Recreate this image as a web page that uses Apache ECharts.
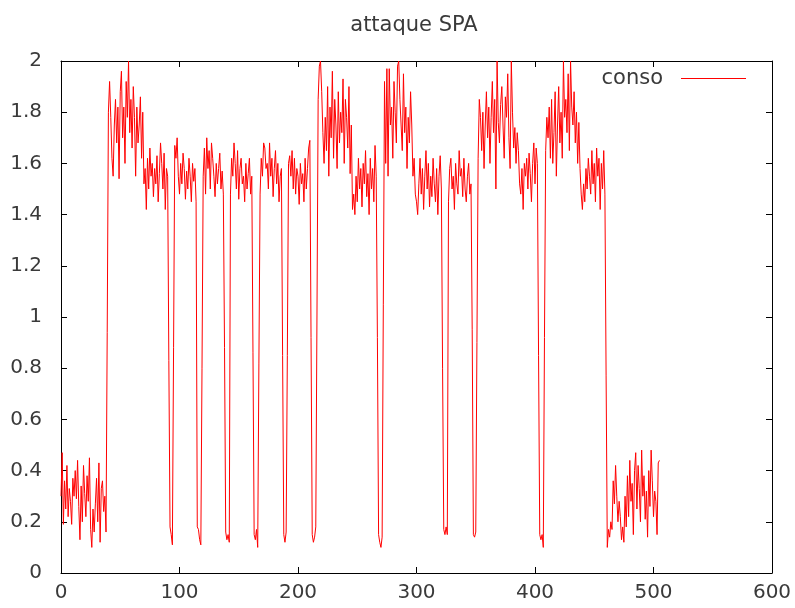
<!DOCTYPE html>
<html>
<head>
<meta charset="UTF-8">
<title>attaque SPA</title>
<script src="https://cdn.jsdelivr.net/npm/echarts@6/dist/echarts.min.js"></script>
<style>
  body { margin: 0; background: #fff; }
  #chart { width: 795px; height: 608px; }
</style>
</head>
<body>
<div id="chart"></div>
<script>
// conso, one value per sample (x = index 0..505)
var conso = [
  // 0-39 low
  0.30, 0.47, 0.19, 0.36, 0.25, 0.42, 0.22, 0.33, 0.28, 0.19,
  0.37, 0.30, 0.40, 0.29, 0.44, 0.26, 0.13, 0.34, 0.20, 0.42,
  0.31, 0.22, 0.38, 0.28, 0.45, 0.17, 0.10, 0.25, 0.16, 0.27,
  0.37, 0.20, 0.43, 0.12, 0.33, 0.36, 0.24, 0.30, 0.16, 0.94,
  // 40-70
  1.80, 1.92, 1.78, 1.62, 1.55, 1.75, 1.85, 1.68, 1.82, 1.54,
  1.88, 1.96, 1.70, 1.82, 1.60, 1.92, 1.78, 2.00, 1.72, 1.85,
  1.66, 1.90, 1.78, 1.55, 1.82, 1.68, 1.75, 1.86, 1.62, 1.80,
  1.52,
  // 71-90
  1.58, 1.42, 1.62, 1.50, 1.66, 1.55, 1.60, 1.47, 1.58, 1.52,
  1.63, 1.45, 1.56, 1.68, 1.60, 1.50, 1.64, 1.42, 1.58, 1.55,
  0.83, 0.18, 0.15, 0.11, 0.88,
  // 96-114
  1.67, 1.62, 1.70, 1.55, 1.48, 1.60, 1.52, 1.64, 1.58, 1.46,
  1.57, 1.50, 1.62, 1.55, 1.45, 1.60, 1.53, 1.58, 1.45,
  0.18, 0.17, 0.13, 0.11, 0.80,
  // 120-137
  1.55, 1.66, 1.48, 1.70, 1.58, 1.65, 1.50, 1.68, 1.62, 1.55,
  1.47, 1.60, 1.52, 1.58, 1.64, 1.50, 1.57, 1.48,
  0.88, 0.16, 0.13, 0.15, 0.12,
  // 143-161
  1.48, 1.62, 1.55, 1.68, 1.60, 1.50, 1.65, 1.46, 1.58, 1.62,
  1.52, 1.55, 1.45, 1.60, 1.50, 1.56, 1.62, 1.48, 1.55,
  0.86, 0.15, 0.13, 0.17, 0.10, 0.82,
  // 168-186
  1.48, 1.62, 1.55, 1.68, 1.66, 1.58, 1.60, 1.50, 1.68, 1.55,
  1.62, 1.47, 1.58, 1.65, 1.52, 1.60, 1.45, 1.55, 1.58,
  0.85, 0.15, 0.12, 0.16, 0.85,
  // 192-210
  1.60, 1.63, 1.55, 1.65, 1.50, 1.62, 1.48, 1.58, 1.55, 1.44,
  1.60, 1.52, 1.56, 1.45, 1.62, 1.50, 1.58, 1.66, 1.69,
  0.92, 0.15, 0.12, 0.14, 0.18, 1.00,
  // 217-245
  1.85, 1.98, 2.00, 1.88, 1.72, 1.60, 1.78, 1.65, 1.90, 1.55,
  1.82, 1.70, 1.96, 1.62, 1.85, 1.75, 1.58, 1.88, 1.68, 1.80,
  1.72, 1.93, 1.60, 1.85, 1.78, 1.66, 1.90, 1.56, 1.75,
  // 246-266
  1.42, 1.48, 1.40, 1.55, 1.45, 1.62, 1.50, 1.58, 1.43, 1.60,
  1.52, 1.65, 1.47, 1.56, 1.40, 1.62, 1.50, 1.58, 1.45, 1.67,
  1.55,
  0.92, 0.15, 0.12, 0.10, 0.14, 1.05,
  // 273-299
  1.92, 1.60, 1.97, 1.55, 1.97, 1.75, 1.82, 1.62, 1.92, 1.80,
  1.68, 1.98, 2.00, 1.85, 1.75, 1.65, 1.95, 1.72, 1.82, 1.58,
  1.78, 1.68, 1.88, 1.75, 1.55, 1.62, 1.48,
  // 300-321
  1.45, 1.40, 1.52, 1.62, 1.48, 1.58, 1.42, 1.55, 1.65, 1.50,
  1.60, 1.43, 1.55, 1.47, 1.62, 1.52, 1.45, 1.58, 1.40, 1.55,
  1.63, 1.50,
  0.80, 0.17, 0.15, 0.18, 0.15,
  // 327-346
  1.45, 1.58, 1.62, 1.50, 1.55, 1.42, 1.60, 1.52, 1.48, 1.65,
  1.55, 1.58, 1.47, 1.62, 1.50, 1.45, 1.55, 1.60, 1.48, 1.52,
  0.95, 0.15, 0.14, 0.16, 0.90,
  // 352-385
  1.62, 1.85, 1.78, 1.65, 1.80, 1.58, 1.75, 1.88, 1.70, 1.82,
  1.60, 1.78, 1.92, 1.72, 1.85, 1.50, 2.00, 1.76, 1.68, 1.83,
  1.90, 1.75, 1.62, 1.86, 1.78, 1.95, 1.70, 1.58, 2.00, 1.80,
  1.66, 1.74, 1.60, 1.72,
  // 386-402
  1.65, 1.52, 1.48, 1.58, 1.42, 1.60, 1.55, 1.62, 1.50, 1.64,
  1.56, 1.45, 1.60, 1.68, 1.52, 1.66, 1.60,
  0.85, 0.15, 0.13, 0.15, 0.10, 0.92,
  // 409-438
  1.65, 1.78, 1.70, 1.82, 1.62, 1.85, 1.60, 1.72, 1.88, 1.55,
  1.75, 1.90, 1.68, 1.80, 1.62, 2.00, 1.78, 1.85, 1.72, 1.95,
  1.65, 2.00, 1.82, 1.75, 1.88, 1.68, 1.80, 1.60, 1.76, 1.58,
  // 439-459
  1.48, 1.42, 1.52, 1.45, 1.58, 1.50, 1.62, 1.55, 1.48, 1.65,
  1.52, 1.60, 1.45, 1.66, 1.55, 1.62, 1.42, 1.60, 1.50, 1.65,
  1.48,
  0.77,
  // 461-505 low
  0.10, 0.17, 0.14, 0.20, 0.17, 0.36, 0.27, 0.42, 0.30, 0.20,
  0.28, 0.22, 0.13, 0.18, 0.12, 0.30, 0.18, 0.38, 0.22, 0.44,
  0.28, 0.35, 0.15, 0.40, 0.47, 0.25, 0.42, 0.33, 0.20, 0.48,
  0.30, 0.38, 0.21, 0.32, 0.14, 0.40, 0.26, 0.48, 0.36, 0.22,
  0.32, 0.28, 0.15, 0.43, 0.44
];

var xRange = [0, 600];
var yRange = [0, 2];

var points = conso.map(function (v, i) { return [i, v]; });

var chart = echarts.init(document.getElementById('chart'));
var txt = '#3a3a3a';
var font = 'DejaVu Sans';

var mirrorX = {
    type: 'value', min: xRange[0], max: xRange[1], interval: 100,
    axisLine: { show: true, onZero: false, lineStyle: { color: '#000', width: 1 } },
    axisTick: { show: true, inside: true, length: 6, lineStyle: { color: '#000' } },
    splitLine: { show: false }
};
var mirrorY = {
    type: 'value', min: yRange[0], max: yRange[1], interval: 0.2,
    axisLine: { show: true, onZero: false, lineStyle: { color: '#000', width: 1 } },
    axisTick: { show: true, inside: true, length: 6, lineStyle: { color: '#000' } },
    splitLine: { show: false }
};

var option = {
    backgroundColor: '#fff',
    animation: false,
    title: {
        text: 'attaque SPA',
        left: 409, textAlign: 'center',
        top: 10,
        textStyle: { fontFamily: font, fontSize: 21, fontWeight: 'normal', color: txt }
    },
    legend: {
        data: ['conso'],
        right: 44, top: 63,
        align: 'right',
        icon: 'rect',
        itemWidth: 65, itemHeight: 1,
        textStyle: { fontFamily: font, fontSize: 21, color: txt, padding: [0, 13, 0, 0] }
    },
    grid: { left: 61, right: 23, top: 61, bottom: 35 },
    xAxis: [
        Object.assign({}, mirrorX, {
            position: 'bottom',
            axisLabel: { show: true, margin: 10, fontFamily: font, fontSize: 20, color: txt }
        }),
        Object.assign({}, mirrorX, { position: 'top', axisLabel: { show: false } })
    ],
    yAxis: [
        Object.assign({}, mirrorY, {
            position: 'left',
            axisLabel: { show: true, margin: 19, fontFamily: font, fontSize: 20, color: txt }
        }),
        Object.assign({}, mirrorY, { position: 'right', axisLabel: { show: false } })
    ],
    series: [{
        name: 'conso',
        type: 'line',
        xAxisIndex: 0,
        yAxisIndex: 0,
        data: points,
        showSymbol: false,
        symbol: 'none',
        color: '#ff0000',
        lineStyle: { color: '#ff0000', width: 1 },
        clip: true
    }]
};
chart.setOption(option);
</script>
</body>
</html>
